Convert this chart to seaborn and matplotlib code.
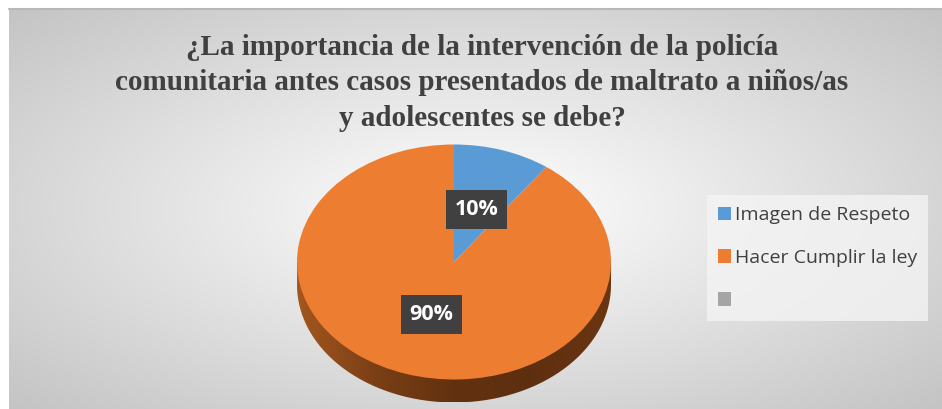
import numpy as np
import matplotlib
matplotlib.use("Agg")
import matplotlib.pyplot as plt
import seaborn as sns
from matplotlib.path import Path
from matplotlib.patches import PathPatch, Rectangle

# Data
categories = ["Imagen de Respeto", "Hacer Cumplir la ley", ""]
values = [10, 90, 0]
colors = ["#5b9bd5", "#ed7d31", "#a5a5a5"]
title = ("¿La importancia de la intervención de la policía\n"
         "comunitaria antes casos presentados de maltrato a niños/as\n"
         "y adolescentes se debe?")

sns.set_theme(style="white")
plt.rcParams["font.family"] = ["Open Sans", "DejaVu Sans"]

W, H = 942, 409
fig = plt.figure(figsize=(W / 100, H / 100), dpi=100)
fig.patch.set_facecolor("white")

# Radial gray gradient background of chart area
bg = fig.add_axes([9 / W, 0, (W - 9) / W, (H - 9) / H])
yy, xx = np.mgrid[-1:1:300j, -1:1:600j]
rr = np.sqrt(xx ** 2 + yy ** 2) / np.sqrt(2)
bg.imshow(1 - rr, cmap=sns.blend_palette(["#c4c4c4", "#ffffff"], as_cmap=True),
          extent=[0, 1, 0, 1], aspect="auto", interpolation="bicubic", vmin=0.0, vmax=1.0)
bg.plot([0, 1], [1, 1], color="#b8b8b8", lw=1.5, transform=bg.transAxes, clip_on=False)
bg.set_xlim(0, 1)
bg.set_ylim(0, 1)
bg.axis("off")

fig.text(482 / W, 1 - 83 / H, title, ha="center", va="center",
         family="Liberation Serif", fontweight="bold", fontsize=21,
         color="#404040", linespacing=1.42)

# Pie axes: 1 unit = 157 px horizontally, 117.5 px vertically
cx, cy = 454, 262
rx, ry = 157, 117.5
ax = fig.add_axes([(cx - 1.1 * rx) / W, 1 - (cy + 1.4 * ry) / H,
                   2.2 * rx / W, 2.5 * ry / H])

depth = 23 / ry
t = np.linspace(np.pi, 2 * np.pi, 200)
side = np.vstack([[-1, 0], np.column_stack([np.cos(t), np.sin(t) - depth]), [1, 0], [-1, 0]])
clip = PathPatch(Path(side), facecolor="none", edgecolor="none", transform=ax.transData)
ax.add_patch(clip)
gx = np.linspace(0, 1, 300)[None, :]
side_cmap = sns.blend_palette(["#a3561f", "#7a3f15", "#62320f", "#5e2f10", "#6b3612"], as_cmap=True)
im = ax.imshow(gx, cmap=side_cmap, extent=[-1, 1, -1 - depth, 0], aspect="auto", zorder=1)
im.set_clip_path(clip)

wedges, texts, autotexts = ax.pie(
    values[:2], colors=colors[:2], startangle=90, counterclock=False,
    autopct="%1.0f%%", pctdistance=0.47, radius=1.0, frame=True,
    wedgeprops=dict(linewidth=0, zorder=2),
    textprops=dict(color="white", fontsize=15.5, fontweight="bold", zorder=5))
ax.set_aspect("auto")
ax.set_xlim(-1.1, 1.1)
ax.set_ylim(-1.4, 1.1)
ax.axis("off")
for w in wedges:
    w.set_zorder(2)
for txt in autotexts:
    txt.set_bbox(dict(boxstyle="square,pad=0.4", facecolor="#404040", edgecolor="none"))
    txt.set_zorder(5)

# Legend
handles = [Rectangle((0, 0), 1, 1, facecolor=c, edgecolor="none") for c in colors]
leg = fig.legend(handles, categories, loc="center left",
                 bbox_to_anchor=(707 / W, 1 - 258 / H), frameon=True,
                 fontsize=14, handlelength=0.7, handleheight=0.7,
                 handletextpad=0.2, labelspacing=1.28, borderpad=0.55,
                 borderaxespad=0, labelcolor="#404040")
leg.get_frame().set_facecolor("#f4f4f4")
leg.get_frame().set_edgecolor("none")
leg.get_frame().set_alpha(0.8)
leg.get_frame().set_boxstyle("square", pad=0)

fig.savefig("out.png", dpi=100)
